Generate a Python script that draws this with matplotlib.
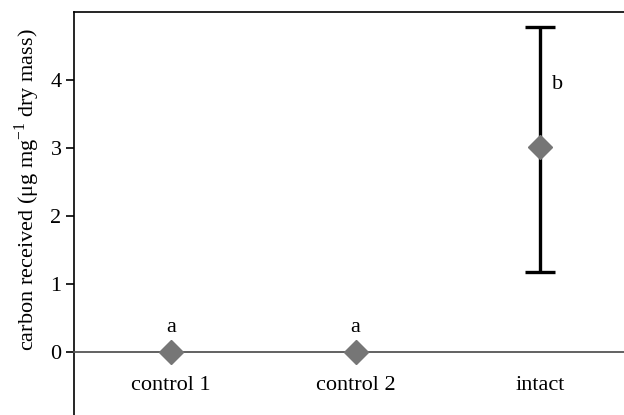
import matplotlib.pyplot as plt

plt.rcParams['font.family'] = ['Liberation Serif', 'DejaVu Serif']
plt.rcParams['mathtext.fontset'] = 'custom'
plt.rcParams['mathtext.rm'] = 'Liberation Serif'

# data
groups = ['control 1', 'control 2', 'intact']
means = [0.0, 0.0, 3.02]
err_low = [0.0, 0.0, 1.84]
err_high = [0.0, 0.0, 1.76]
letters = ['a', 'a', 'b']

fig = plt.figure(figsize=(6.24, 4.15), dpi=100)
ax = fig.add_axes([0.1186, -0.012, 0.8955, 0.983])

xs = list(range(len(groups)))

# error bar only where there is a spread
for x, m, lo, hi in zip(xs, means, err_low, err_high):
    if lo > 0 or hi > 0:
        ax.errorbar(x, m, yerr=[[lo], [hi]], fmt='none', ecolor='black',
                    elinewidth=2.4, capsize=11, capthick=2.4, zorder=2)

ax.plot(xs, means, linestyle='none', marker='D', markersize=12.5,
        color='#767676', markeredgecolor='#767676', zorder=3)

# significance letters
for x, m, hi, lab in zip(xs, means, err_high, letters):
    if hi > 0:
        ax.text(x + 0.065, m + hi - 0.85, lab, fontsize=16, ha='left', va='center')
    else:
        ax.text(x, m + 0.36, lab, fontsize=16, ha='center', va='center')

ax.set_xlim(-0.524, 2.5)
ax.set_ylim(-1, 5)

ax.spines['bottom'].set_position(('data', 0))
ax.spines['bottom'].set_color('#555555')
ax.spines['bottom'].set_linewidth(1.3)
ax.spines['right'].set_visible(False)
ax.spines['left'].set_linewidth(1.2)
ax.spines['top'].set_linewidth(1.2)

ax.set_xticks(xs)
ax.set_xticklabels(groups, fontsize=16)
ax.tick_params(axis='x', length=0, pad=17)
ax.set_yticks([0, 1, 2, 3, 4])
ax.tick_params(axis='y', length=6, width=1.2, direction='out', labelsize=16, pad=3)

ax.set_ylabel(r'carbon received (μg mg$^{-1}$ dry mass)', fontsize=16)
ax.yaxis.set_label_coords(-0.057, 0.564)

fig.savefig('out.png', dpi=100)
